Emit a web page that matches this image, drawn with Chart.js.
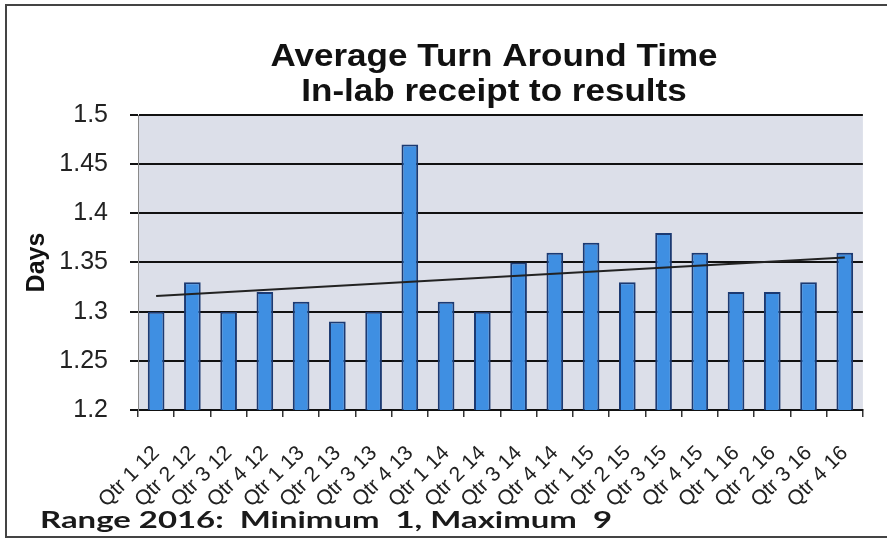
<!DOCTYPE html>
<html>
<head>
<meta charset="utf-8">
<script src="https://cdn.jsdelivr.net/npm/chart.js@4.4.0/dist/chart.umd.min.js"></script>
<style>
html,body{margin:0;padding:0;background:#fff;}
canvas{display:block;}
</style>
</head>
<body>
<canvas id="c" width="887" height="540"></canvas>
<script>
// ---- data ----
const categories = ['Qtr 1 12','Qtr 2 12','Qtr 3 12','Qtr 4 12','Qtr 1 13','Qtr 2 13','Qtr 3 13','Qtr 4 13',
  'Qtr 1 14','Qtr 2 14','Qtr 3 14','Qtr 4 14','Qtr 1 15','Qtr 2 15','Qtr 3 15','Qtr 4 15',
  'Qtr 1 16','Qtr 2 16','Qtr 3 16','Qtr 4 16'];
const days = [1.30,1.33,1.30,1.32,1.31,1.29,1.30,1.47,1.31,1.30,1.35,1.36,1.37,1.33,1.38,1.36,1.32,1.32,1.33,1.36];
const trendEnds = [1.316, 1.355];
const yTickLabels = ['1.2','1.25','1.3','1.35','1.4','1.45','1.5'];
const titleLines = ['Average Turn Around Time','In-lab receipt to results'];
const yTitle = 'Days';
const footnote = 'Range 2016:  Minimum  1, Maximum  9';

// trend line data built from its two end values
const trendData = categories.map((_, i) => i === 0 ? trendEnds[0] : (i === categories.length - 1 ? trendEnds[1] : null));

const decorations = {
  id: 'decorations',
  beforeDraw(chart) {
    const {ctx, chartArea: a} = chart;
    ctx.save();
    ctx.fillStyle = '#dcdfe9';
    ctx.fillRect(a.left, a.top, a.right - a.left, a.bottom - a.top);
    ctx.strokeStyle = '#444';
    ctx.lineWidth = 2;
    ctx.strokeRect(6, 5, 900, 532);
    ctx.restore();
  },
  afterDraw(chart) {
    const {ctx} = chart;
    ctx.save();
    ctx.fillStyle = '#111';
    ctx.textAlign = 'center';
    ctx.textBaseline = 'alphabetic';
    ctx.font = 'bold 31px "Liberation Sans", Arial, sans-serif';
    ctx.translate(494, 0);
    ctx.scale(1.13, 1);
    ctx.fillText(titleLines[0], 0, 66);
    ctx.fillText(titleLines[1], 0, 101);
    ctx.restore();

    ctx.save();
    ctx.fillStyle = '#1a1a1a';
    ctx.textAlign = 'left';
    ctx.textBaseline = 'alphabetic';
    ctx.font = 'bold 23px Lato, "Open Sans", sans-serif';
    const w = ctx.measureText(footnote).width;
    ctx.translate(40, 528);
    ctx.scale(572 / w, 1);
    ctx.fillText(footnote, 0, 0);
    ctx.restore();
  }
};

new Chart(document.getElementById('c'), {
  type: 'bar',
  data: {
    labels: categories,
    datasets: [
      {
        type: 'line',
        data: trendData,
        spanGaps: true,
        borderColor: '#222',
        borderWidth: 2,
        pointRadius: 0,
        fill: false,
        order: 0
      },
      {
        data: days,
        backgroundColor: '#3f8fe2',
        borderColor: '#1c3a72',
        borderWidth: 2,
        borderSkipped: false,
        barPercentage: 0.46,
        categoryPercentage: 1,
        order: 1
      }
    ]
  },
  options: {
    responsive: false,
    animation: false,
    devicePixelRatio: 1,
    layout: {padding: {top: 115, left: 10, right: 16, bottom: 0}},
    plugins: {
      legend: {display: false},
      tooltip: {enabled: false},
      title: {display: false}
    },
    scales: {
      x: {
        offset: true,
        grid: {display: true, drawOnChartArea: false, drawTicks: true, tickLength: 7, color: '#333', lineWidth: 1.5, offset: true},
        border: {display: true, color: '#111', width: 2},
        ticks: {
          autoSkip: false, maxRotation: 45, minRotation: 45,
          padding: 24,
          color: '#222',
          font: {family: '"Liberation Sans", Arial, sans-serif', size: 21}
        },
        afterFit(scale) { scale.height = 130; }
      },
      y: {
        min: 1.2, max: 1.5,
        grid: {color: '#111', lineWidth: 2, tickLength: 8, drawTicks: true},
        border: {display: true, color: '#8a8a8a', width: 1},
        ticks: {
          stepSize: 0.05,
          padding: 22,
          color: '#222',
          font: {family: '"Liberation Sans", Arial, sans-serif', size: 25},
          callback: (v, i) => yTickLabels[i]
        },
        title: {
          display: true, text: yTitle, color: '#111',
          font: {family: '"Liberation Sans", Arial, sans-serif', size: 25, weight: 'bold'},
          padding: {top: 12, bottom: 0}
        },
        afterFit(scale) { scale.width = 128; }
      }
    }
  },
  plugins: [decorations]
});
</script>
</body>
</html>
